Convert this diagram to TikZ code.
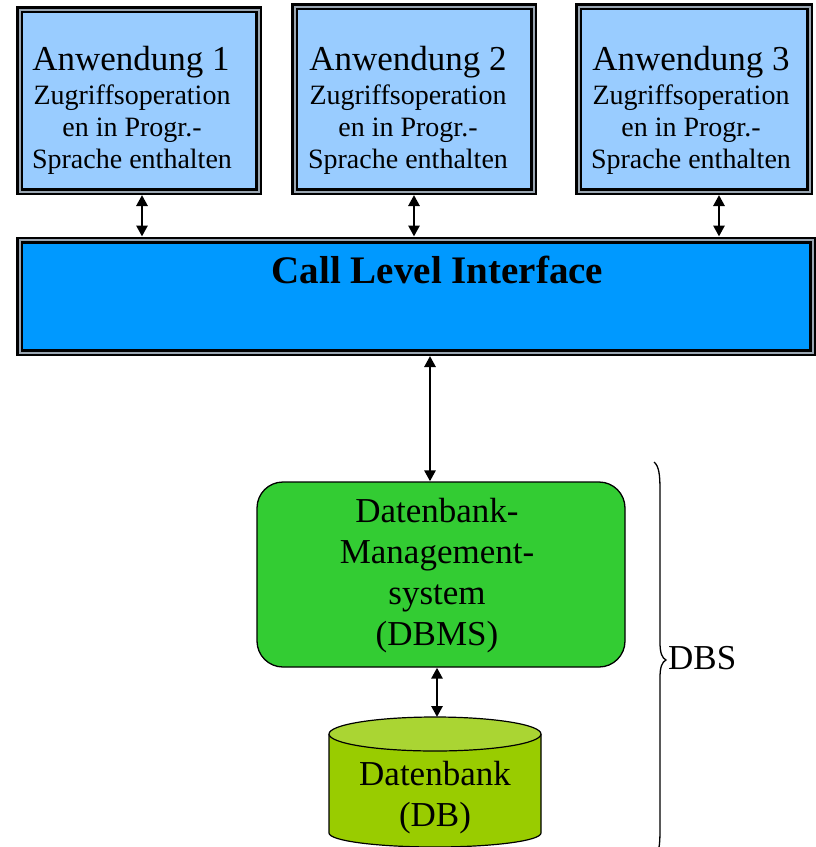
\documentclass[tikz,border=0pt]{standalone}
\usepackage{fontspec}
\setmainfont{Liberation Serif}
\usetikzlibrary{arrows.meta}

\definecolor{appfill}{HTML}{99CCFF}
\definecolor{clifill}{HTML}{0099FF}
\definecolor{dbmsfill}{HTML}{33CC33}
\definecolor{dbbody}{HTML}{99CC00}
\definecolor{dbcap}{HTML}{AAD533}
\definecolor{framegap}{HTML}{9AA6B2}

\tikzset{
  framedbox/.style={draw=black, line width=2.5pt, double=framegap,
    double distance=2pt, outer sep=3.5pt, inner sep=0pt},
  appbox/.style={framedbox, fill=appfill},
  apptitle/.style={anchor=base, inner sep=0pt, font=\fontsize{35}{40}\selectfont},
  appdesc/.style={anchor=north, inner sep=0pt, align=center,
    font=\fontsize{28}{32}\selectfont},
  bigtext/.style={inner sep=0pt, align=center, font=\fontsize{35}{41}\selectfont},
  biarrow/.style={line width=2.8pt,
    {Triangle[length=11pt,width=11pt]}-{Triangle[length=11pt,width=11pt]}},
  dbmsbox/.style={draw=black, line width=1.3pt, fill=dbmsfill,
    rounded corners=26pt, inner sep=0pt},
}

\begin{document}
\begin{tikzpicture}[x=1pt,y=-1pt]
\useasboundingbox (0,0) rectangle (816,847);
\clip (0,0) rectangle (816,847);

% application boxes
\node[appbox, minimum width=239pt, minimum height=182pt] (app1) at (139,100.5) {};
\node[appbox, minimum width=239pt, minimum height=185pt] (app2) at (414,99) {};
\node[appbox, minimum width=231pt, minimum height=185pt] (app3) at (694,99) {};

\node[apptitle] (t1) at (131,70) {Anwendung 1};
\node[apptitle] (t2) at (408,70) {Anwendung 2};
\node[apptitle] (t3) at (691,70) {Anwendung 3};
\node[appdesc] (d1) at (132,85) {Zugriffsoperation\\en in Progr.-\\Sprache enthalten};
\node[appdesc] (d2) at (408,85) {Zugriffsoperation\\en in Progr.-\\Sprache enthalten};
\node[appdesc] (d3) at (691,85) {Zugriffsoperation\\en in Progr.-\\Sprache enthalten};

% call level interface
\node[framedbox, fill=clifill, minimum width=793pt, minimum height=112.5pt] (cli) at (416,296.25) {};
\node[anchor=base, inner sep=0pt, font=\fontsize{39}{44}\selectfont\bfseries] (clititle) at (437.5,283) {Call Level Interface};

% database management system
\node[dbmsbox, minimum width=368pt, minimum height=185pt] (dbms) at (441,574.5) {};
\node[bigtext, anchor=north] (dbmstext) at (437,498) {Datenbank-\\Management-\\system\\(DBMS)};

% database cylinder
\fill[dbbody] (329,734) -- (329,833) arc (180:0:106 and 14) -- (541,734) -- cycle;
\draw[line width=1.2pt] (329,734) -- (329,833) arc (180:0:106 and 14) -- (541,734);
\draw[line width=1.2pt, fill=dbcap] (435,734) ellipse (106 and 17);
\coordinate (dbtop) at (437,717);
\node[bigtext, anchor=north] (db) at (435,761) {Datenbank\\(DB)};

% connectors
\draw[biarrow] ([xshift=3pt]app1.south) -- ([xshift=3pt]app1.south |- cli.north);
\draw[biarrow] (app2.south) -- (app2.south |- cli.north);
\draw[biarrow] ([xshift=25pt]app3.south) -- ([xshift=25pt]app3.south |- cli.north);
\draw[biarrow] ([xshift=14pt]cli.south) -- ([xshift=14pt]cli.south |- dbms.north);
\draw[biarrow] (dbms.south -| dbtop) -- (dbtop);

% brace around the database system
\draw[line width=1.3pt] (654,462) .. controls (659,466) and (660,475) .. (660,490)
  -- (660,642) .. controls (660,653) and (662,658) .. (666,660)
  .. controls (662,662) and (660,667) .. (660,678)
  -- (660,830) .. controls (660,845) and (659,854) .. (654,858);
\node[anchor=base west, inner sep=0pt, font=\fontsize{35}{41}\selectfont] (dbs) at (668,669) {DBS};
\end{tikzpicture}
\end{document}
